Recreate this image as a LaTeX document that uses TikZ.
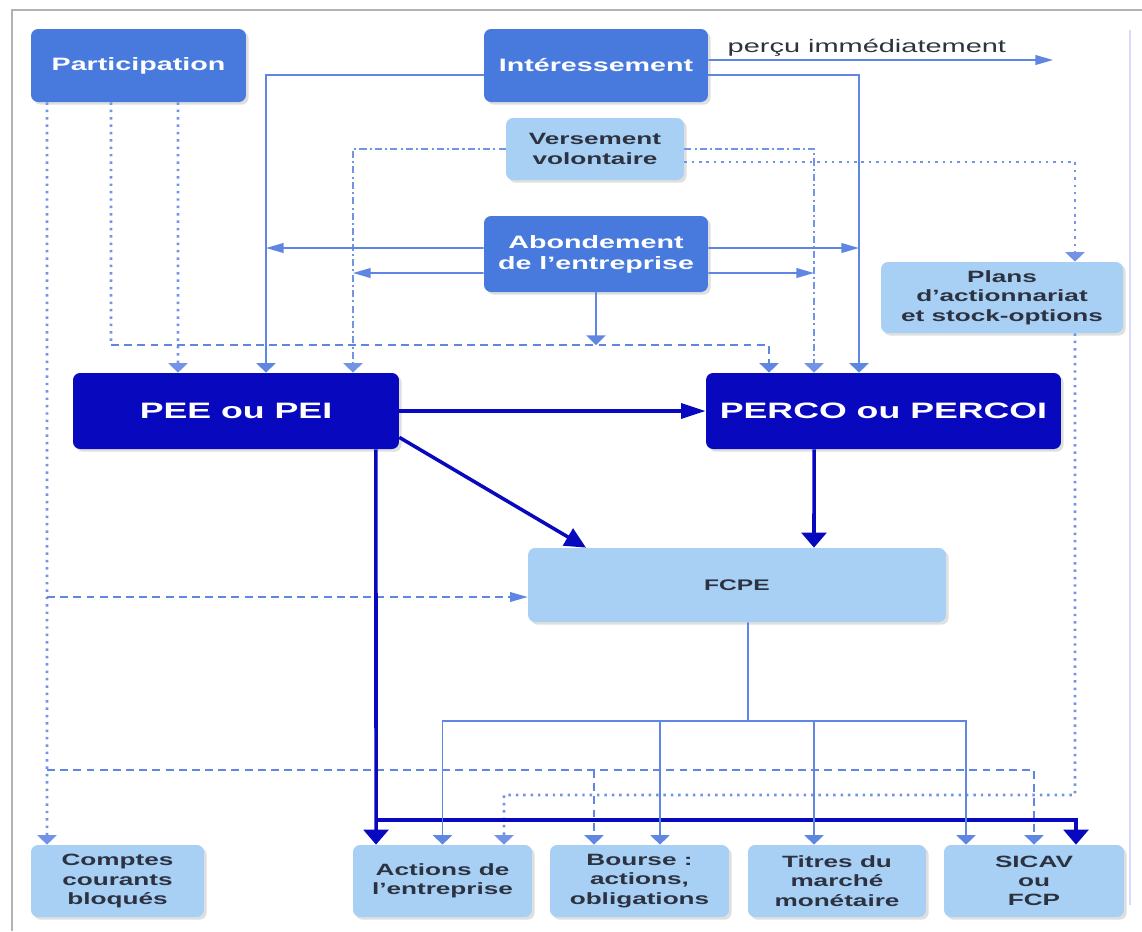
\documentclass[tikz,border=0pt]{standalone}
\usepackage{fontspec}
\setmainfont[FakeStretch=1.6]{Liberation Sans}
\usepackage{tikz}
\usetikzlibrary{arrows.meta, positioning, shadows}

\definecolor{partblue}{RGB}{72,122,222}
\definecolor{planblue}{RGB}{8,8,190}
\definecolor{fundblue}{RGB}{168,208,245}
\definecolor{flowblue}{RGB}{95,135,225}
\definecolor{dotblue}{RGB}{115,148,230}
\definecolor{fundtext}{RGB}{45,50,65}

\begin{document}
\begin{tikzpicture}[x=0.02cm, y=-0.02cm,
    box/.style={rounded corners=4pt, inner sep=0pt, align=center,
      drop shadow={opacity=0.25, shadow xshift=1.5pt, shadow yshift=-1.5pt}},
    source/.style={box, fill=partblue, text=white, font=\fontsize{10.2}{12}\selectfont\bfseries},
    plan/.style={box, fill=planblue, text=white, font=\fontsize{12.7}{15}\selectfont\bfseries},
    fund/.style={box, fill=fundblue, text=fundtext, font=\fontsize{9.3}{11}\selectfont\bfseries},
    vtip/.style={-{Triangle[length=5.5pt, width=11pt]}},
    htip/.style={-{Triangle[length=10pt, width=5.5pt]}},
    flow/.style={draw=flowblue, line width=1pt},
    dots/.style={draw=dotblue, line width=1.6pt, dash pattern=on 1.4pt off 2.8pt},
    dashes/.style={draw=flowblue, line width=0.8pt, dash pattern=on 4.5pt off 3pt},
    dashdots/.style={draw=dotblue, line width=1pt, dash pattern=on 4pt off 1.8pt on 1.2pt off 1.8pt},
    main/.style={draw=planblue, line width=2pt},
    vmain/.style={-{Triangle[length=8.5pt, width=14pt]}},
    hmain/.style={-{Triangle[length=14pt, width=8.5pt]}}]
  \useasboundingbox (0,0) rectangle (1142,931);
  \draw[black!30, line width=1pt] (12,931) -- (12,10) -- (1142,10);
  \draw[blue!15, line width=1.5pt] (1130,30) -- (1130,905);

  \node[source, minimum width=4.30cm, minimum height=1.46cm] (part) at (138.5,65.5) {Participation};
  \node[source, minimum width=4.48cm, minimum height=1.46cm] (inter) at (596,65.5) {Intéressement};
  \node[fund, minimum width=3.56cm, minimum height=1.24cm] (vers) at (595,149) {Versement\\volontaire};
  \node[source, minimum width=4.48cm, minimum height=1.52cm] (abond) at (596,254) {Abondement\\de l’entreprise};
  \node[fund, minimum width=4.84cm, minimum height=1.42cm] (plans) at (1002,297.5) {Plans\\d’actionnariat\\et stock-options};
  \node[plan, minimum width=6.52cm, minimum height=1.52cm] (pee) at (236,411) {PEE ou PEI};
  \node[plan, minimum width=7.10cm, minimum height=1.52cm] (perco) at (883.5,411) {PERCO ou PERCOI};
  \node[fund, font=\fontsize{8.75}{10}\selectfont\bfseries, minimum width=8.36cm, minimum height=1.48cm] (fcpe) at (737,585) {FCPE};
  \foreach \name/\cx/\w/\txt in {comptes/117.5/3.46/{Comptes\\courants\\bloqués},
      actions/442.5/3.58/{Actions de\\l’entreprise}, bourse/639.5/3.58/{Bourse :\\actions,\\obligations},
      titres/837/3.56/{Titres du\\marché\\monétaire}, sicav/1034/3.60/{SICAV\\ou\\FCP}}
    \node[fund, minimum width=\w cm, minimum height=1.44cm] (\name) at (\cx,881) {\txt};

  \coordinate (percu) at (1053,60);
  \coordinate (al1) at (266,248);
  \coordinate (al2) at (353,273);
  \coordinate (ar1) at (859,248);
  \coordinate (ar2) at (814,273);
  \coordinate (pj) at (111,345);
  \coordinate (pf) at (47,597);
  \coordinate (pb) at (47,770);
  \coordinate (pl) at (504,795);
  \coordinate (pt) at (376,820);
  \coordinate (fj) at (748,721);
  \coordinate (bd) at ([xshift=-0.91cm]bourse.north);

  \draw[flow, htip] ([yshift=0.11cm]inter.east) -- node[above=-1.5pt, pos=0.46, text=fundtext,
    font=\fontsize{10.3}{12}\selectfont] {perçu immédiatement} (percu);
  \draw[flow, vtip] ([yshift=-0.19cm]inter.west) -| ([xshift=0.6cm]pee.north);
  \draw[flow, vtip] ([yshift=-0.19cm]inter.east) -| ([xshift=-0.49cm]perco.north);
  \draw[dashdots, vtip] (vers.west) -| ([xshift=2.34cm]pee.north);
  \draw[dashdots, vtip] (vers.east) -| ([xshift=-1.39cm]perco.north);
  \draw[dots, vtip] ([yshift=-0.26cm]vers.east) -| ([xshift=1.46cm]plans.north);
  \draw[flow, htip] ([yshift=0.12cm]abond.west) -- (al1);
  \draw[flow, htip] ([yshift=-0.38cm]abond.west) -- (al2);
  \draw[flow, htip] ([yshift=0.12cm]abond.east) -- (ar1);
  \draw[flow, htip] ([yshift=-0.38cm]abond.east) -- (ar2);
  \draw[flow, vtip] (abond.south) -- (abond.south |- pj);

  \draw[dots] ([xshift=-0.55cm]part.south) -- (pj);
  \draw[dashes, vtip] (pj) -| ([xshift=-2.29cm]perco.north);
  \draw[dots, vtip] ([xshift=0.79cm]part.south) -- ([xshift=-1.16cm]pee.north);
  \draw[dots, vtip] ([xshift=-1.83cm]part.south) -- ([xshift=-1.41cm]comptes.north);
  \draw[dashes, htip] (pf) -- (fcpe.west |- pf);
  \draw[dashes, vtip] (pb) -| (sicav.north);
  \draw[dashes, vtip] (bd |- pb) -- (bd);
  \draw[dots, vtip] ([xshift=1.46cm]plans.south) |- (pl) -- ([xshift=1.23cm]actions.north);

  \draw[main, hmain] (pee) -- (perco);
  \draw[main, -{Triangle[length=12pt, width=11pt]}] ([yshift=0.24cm]pee.south east) -- ([xshift=-3.02cm]fcpe.north);
  \draw[main, vmain] ([xshift=-1.39cm]perco.south) -- ([xshift=1.54cm]fcpe.north);
  \draw[main, vmain] ([xshift=2.8cm]pee.south) -- ([xshift=-1.33cm]actions.north);
  \draw[main, vmain] (pt) -| ([xshift=0.84cm]sicav.north);

  \draw[flow] ([xshift=0.22cm]fcpe.south) -- (fj);
  \foreach \dest/\dx in {actions/0, bourse/0.41, titres/-0.46, sicav/-1.36}
    \draw[flow, vtip] (fj) -| ([xshift=\dx cm]\dest.north);
\end{tikzpicture}
\end{document}
